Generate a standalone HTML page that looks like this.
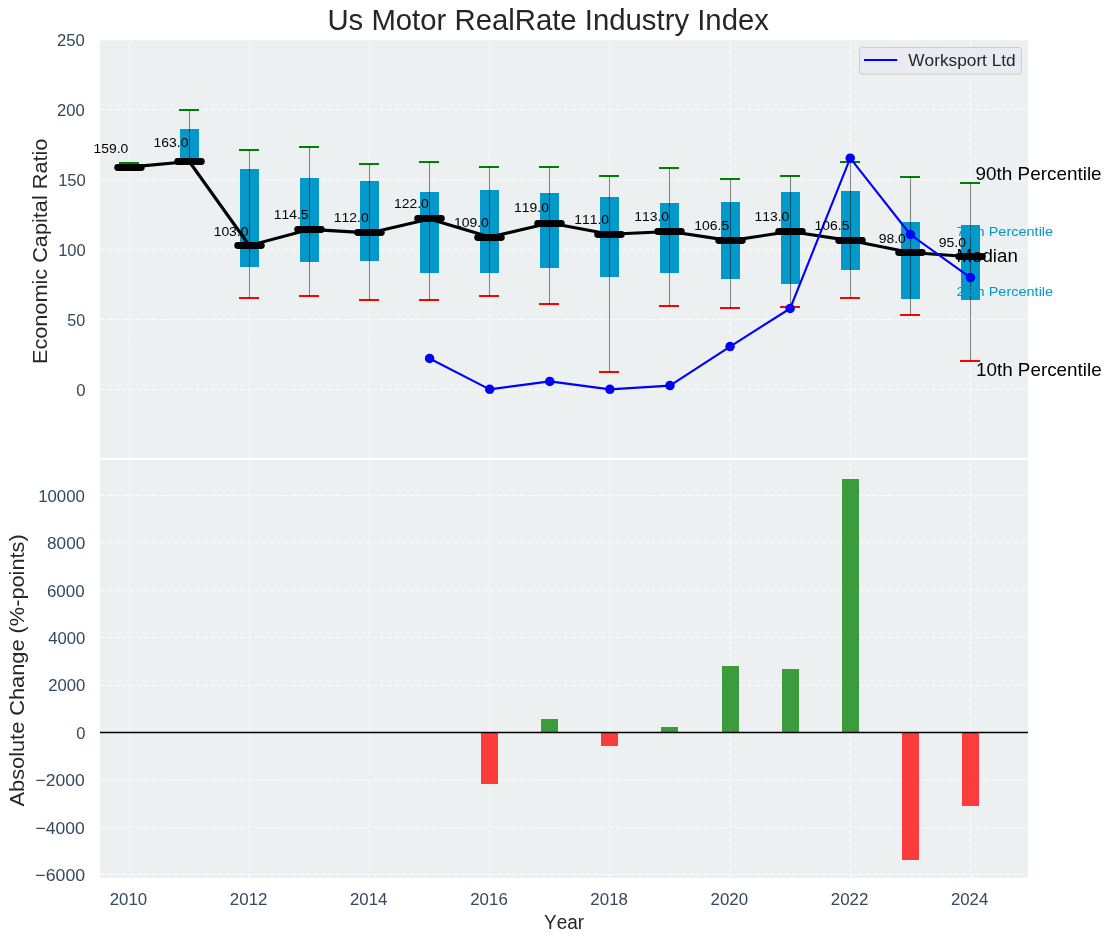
<!DOCTYPE html><html><head><meta charset="utf-8"><style>html,body{margin:0;padding:0;background:#fff;}svg{display:block;will-change:transform;}text{font-family:"Liberation Sans", sans-serif;font-kerning:none;}</style></head><body>
<svg width="1111" height="942" viewBox="0 0 1111 942">
<rect x="0" y="0" width="1111" height="942" fill="#ffffff"/>
<rect x="100.0" y="40.0" width="927.90" height="417.80" fill="#ecf0f1"/>
<rect x="100.0" y="460.0" width="927.90" height="417.80" fill="#ecf0f1"/>
<line x1="100.0" y1="389.50" x2="1027.90" y2="389.50" stroke="#ffffff" stroke-width="1" stroke-dasharray="5.139 2.222" stroke-opacity="0.8"/>
<line x1="100.0" y1="319.50" x2="1027.90" y2="319.50" stroke="#ffffff" stroke-width="1" stroke-dasharray="5.139 2.222" stroke-opacity="0.8"/>
<line x1="100.0" y1="249.50" x2="1027.90" y2="249.50" stroke="#ffffff" stroke-width="1" stroke-dasharray="5.139 2.222" stroke-opacity="0.8"/>
<line x1="100.0" y1="179.50" x2="1027.90" y2="179.50" stroke="#ffffff" stroke-width="1" stroke-dasharray="5.139 2.222" stroke-opacity="0.8"/>
<line x1="100.0" y1="109.50" x2="1027.90" y2="109.50" stroke="#ffffff" stroke-width="1" stroke-dasharray="5.139 2.222" stroke-opacity="0.8"/>
<line x1="100.0" y1="40.25" x2="1027.90" y2="40.25" stroke="#ffffff" stroke-width="0.5" stroke-dasharray="5.139 2.222" stroke-opacity="0.8"/>
<line x1="129.50" y1="457.80" x2="129.50" y2="40.00" stroke="#ffffff" stroke-width="1" stroke-dasharray="5.139 2.222" stroke-dashoffset="1.5" stroke-opacity="0.8"/>
<line x1="249.50" y1="457.80" x2="249.50" y2="40.00" stroke="#ffffff" stroke-width="1" stroke-dasharray="5.139 2.222" stroke-dashoffset="1.5" stroke-opacity="0.8"/>
<line x1="369.50" y1="457.80" x2="369.50" y2="40.00" stroke="#ffffff" stroke-width="1" stroke-dasharray="5.139 2.222" stroke-dashoffset="1.5" stroke-opacity="0.8"/>
<line x1="489.50" y1="457.80" x2="489.50" y2="40.00" stroke="#ffffff" stroke-width="1" stroke-dasharray="5.139 2.222" stroke-dashoffset="1.5" stroke-opacity="0.8"/>
<line x1="609.50" y1="457.80" x2="609.50" y2="40.00" stroke="#ffffff" stroke-width="1" stroke-dasharray="5.139 2.222" stroke-dashoffset="1.5" stroke-opacity="0.8"/>
<line x1="730.50" y1="457.80" x2="730.50" y2="40.00" stroke="#ffffff" stroke-width="1" stroke-dasharray="5.139 2.222" stroke-dashoffset="1.5" stroke-opacity="0.8"/>
<line x1="850.50" y1="457.80" x2="850.50" y2="40.00" stroke="#ffffff" stroke-width="1" stroke-dasharray="5.139 2.222" stroke-dashoffset="1.5" stroke-opacity="0.8"/>
<line x1="970.50" y1="457.80" x2="970.50" y2="40.00" stroke="#ffffff" stroke-width="1" stroke-dasharray="5.139 2.222" stroke-dashoffset="1.5" stroke-opacity="0.8"/>
<line x1="100.0" y1="874.50" x2="1027.90" y2="874.50" stroke="#ffffff" stroke-width="1" stroke-dasharray="5.139 2.222" stroke-opacity="0.8"/>
<line x1="100.0" y1="827.50" x2="1027.90" y2="827.50" stroke="#ffffff" stroke-width="1" stroke-dasharray="5.139 2.222" stroke-opacity="0.8"/>
<line x1="100.0" y1="780.50" x2="1027.90" y2="780.50" stroke="#ffffff" stroke-width="1" stroke-dasharray="5.139 2.222" stroke-opacity="0.8"/>
<line x1="100.0" y1="732.50" x2="1027.90" y2="732.50" stroke="#ffffff" stroke-width="1" stroke-dasharray="5.139 2.222" stroke-opacity="0.8"/>
<line x1="100.0" y1="685.50" x2="1027.90" y2="685.50" stroke="#ffffff" stroke-width="1" stroke-dasharray="5.139 2.222" stroke-opacity="0.8"/>
<line x1="100.0" y1="637.50" x2="1027.90" y2="637.50" stroke="#ffffff" stroke-width="1" stroke-dasharray="5.139 2.222" stroke-opacity="0.8"/>
<line x1="100.0" y1="590.50" x2="1027.90" y2="590.50" stroke="#ffffff" stroke-width="1" stroke-dasharray="5.139 2.222" stroke-opacity="0.8"/>
<line x1="100.0" y1="542.50" x2="1027.90" y2="542.50" stroke="#ffffff" stroke-width="1" stroke-dasharray="5.139 2.222" stroke-opacity="0.8"/>
<line x1="100.0" y1="495.50" x2="1027.90" y2="495.50" stroke="#ffffff" stroke-width="1" stroke-dasharray="5.139 2.222" stroke-opacity="0.8"/>
<line x1="129.50" y1="877.80" x2="129.50" y2="460.00" stroke="#ffffff" stroke-width="1" stroke-dasharray="5.139 2.222" stroke-dashoffset="1.5" stroke-opacity="0.8"/>
<line x1="249.50" y1="877.80" x2="249.50" y2="460.00" stroke="#ffffff" stroke-width="1" stroke-dasharray="5.139 2.222" stroke-dashoffset="1.5" stroke-opacity="0.8"/>
<line x1="369.50" y1="877.80" x2="369.50" y2="460.00" stroke="#ffffff" stroke-width="1" stroke-dasharray="5.139 2.222" stroke-dashoffset="1.5" stroke-opacity="0.8"/>
<line x1="489.50" y1="877.80" x2="489.50" y2="460.00" stroke="#ffffff" stroke-width="1" stroke-dasharray="5.139 2.222" stroke-dashoffset="1.5" stroke-opacity="0.8"/>
<line x1="609.50" y1="877.80" x2="609.50" y2="460.00" stroke="#ffffff" stroke-width="1" stroke-dasharray="5.139 2.222" stroke-dashoffset="1.5" stroke-opacity="0.8"/>
<line x1="730.50" y1="877.80" x2="730.50" y2="460.00" stroke="#ffffff" stroke-width="1" stroke-dasharray="5.139 2.222" stroke-dashoffset="1.5" stroke-opacity="0.8"/>
<line x1="850.50" y1="877.80" x2="850.50" y2="460.00" stroke="#ffffff" stroke-width="1" stroke-dasharray="5.139 2.222" stroke-dashoffset="1.5" stroke-opacity="0.8"/>
<line x1="970.50" y1="877.80" x2="970.50" y2="460.00" stroke="#ffffff" stroke-width="1" stroke-dasharray="5.139 2.222" stroke-dashoffset="1.5" stroke-opacity="0.8"/>
<rect x="180" y="129" width="19" height="32" fill="#0399cb"/>
<rect x="240" y="169" width="19" height="98" fill="#0399cb"/>
<rect x="300" y="178" width="19" height="84" fill="#0399cb"/>
<rect x="360" y="181" width="19" height="80" fill="#0399cb"/>
<rect x="420" y="192" width="19" height="81" fill="#0399cb"/>
<rect x="480" y="190" width="19" height="83" fill="#0399cb"/>
<rect x="540" y="193" width="19" height="75" fill="#0399cb"/>
<rect x="600" y="197" width="19" height="80" fill="#0399cb"/>
<rect x="660" y="203" width="19" height="70" fill="#0399cb"/>
<rect x="721" y="202" width="19" height="77" fill="#0399cb"/>
<rect x="781" y="192" width="19" height="92" fill="#0399cb"/>
<rect x="841" y="191" width="19" height="79" fill="#0399cb"/>
<rect x="901" y="222" width="19" height="77" fill="#0399cb"/>
<rect x="961" y="225" width="19" height="75" fill="#0399cb"/>
<line x1="119" y1="163" x2="139" y2="163" stroke="#008000" stroke-width="2"/>
<line x1="119" y1="169" x2="139" y2="169" stroke="#ff0000" stroke-width="2"/>
<line x1="129.50" y1="163.00" x2="129.50" y2="169.00" stroke="#000" stroke-opacity="0.45" stroke-width="1.1"/>
<line x1="179" y1="110" x2="199" y2="110" stroke="#008000" stroke-width="2"/>
<line x1="179" y1="161.5" x2="199" y2="161.5" stroke="#ff0000" stroke-width="2"/>
<line x1="189.50" y1="110.00" x2="189.50" y2="161.50" stroke="#000" stroke-opacity="0.45" stroke-width="1.1"/>
<line x1="239" y1="150" x2="259" y2="150" stroke="#008000" stroke-width="2"/>
<line x1="239" y1="298" x2="259" y2="298" stroke="#ff0000" stroke-width="2"/>
<line x1="249.50" y1="150.00" x2="249.50" y2="298.00" stroke="#000" stroke-opacity="0.45" stroke-width="1.1"/>
<line x1="299" y1="147" x2="319" y2="147" stroke="#008000" stroke-width="2"/>
<line x1="299" y1="296" x2="319" y2="296" stroke="#ff0000" stroke-width="2"/>
<line x1="309.50" y1="147.00" x2="309.50" y2="296.00" stroke="#000" stroke-opacity="0.45" stroke-width="1.1"/>
<line x1="359" y1="164" x2="379" y2="164" stroke="#008000" stroke-width="2"/>
<line x1="359" y1="300" x2="379" y2="300" stroke="#ff0000" stroke-width="2"/>
<line x1="369.50" y1="164.00" x2="369.50" y2="300.00" stroke="#000" stroke-opacity="0.45" stroke-width="1.1"/>
<line x1="419" y1="162" x2="439" y2="162" stroke="#008000" stroke-width="2"/>
<line x1="419" y1="300" x2="439" y2="300" stroke="#ff0000" stroke-width="2"/>
<line x1="429.50" y1="162.00" x2="429.50" y2="300.00" stroke="#000" stroke-opacity="0.45" stroke-width="1.1"/>
<line x1="479" y1="167" x2="499" y2="167" stroke="#008000" stroke-width="2"/>
<line x1="479" y1="296" x2="499" y2="296" stroke="#ff0000" stroke-width="2"/>
<line x1="489.50" y1="167.00" x2="489.50" y2="296.00" stroke="#000" stroke-opacity="0.45" stroke-width="1.1"/>
<line x1="539" y1="167" x2="559" y2="167" stroke="#008000" stroke-width="2"/>
<line x1="539" y1="304" x2="559" y2="304" stroke="#ff0000" stroke-width="2"/>
<line x1="549.50" y1="167.00" x2="549.50" y2="304.00" stroke="#000" stroke-opacity="0.45" stroke-width="1.1"/>
<line x1="599" y1="176" x2="619" y2="176" stroke="#008000" stroke-width="2"/>
<line x1="599" y1="372" x2="619" y2="372" stroke="#ff0000" stroke-width="2"/>
<line x1="609.50" y1="176.00" x2="609.50" y2="372.00" stroke="#000" stroke-opacity="0.45" stroke-width="1.1"/>
<line x1="659" y1="168" x2="679" y2="168" stroke="#008000" stroke-width="2"/>
<line x1="659" y1="306" x2="679" y2="306" stroke="#ff0000" stroke-width="2"/>
<line x1="669.50" y1="168.00" x2="669.50" y2="306.00" stroke="#000" stroke-opacity="0.45" stroke-width="1.1"/>
<line x1="720" y1="179" x2="740" y2="179" stroke="#008000" stroke-width="2"/>
<line x1="720" y1="308" x2="740" y2="308" stroke="#ff0000" stroke-width="2"/>
<line x1="730.50" y1="179.00" x2="730.50" y2="308.00" stroke="#000" stroke-opacity="0.45" stroke-width="1.1"/>
<line x1="780" y1="176" x2="800" y2="176" stroke="#008000" stroke-width="2"/>
<line x1="780" y1="307" x2="800" y2="307" stroke="#ff0000" stroke-width="2"/>
<line x1="790.50" y1="176.00" x2="790.50" y2="307.00" stroke="#000" stroke-opacity="0.45" stroke-width="1.1"/>
<line x1="840" y1="162" x2="860" y2="162" stroke="#008000" stroke-width="2"/>
<line x1="840" y1="298" x2="860" y2="298" stroke="#ff0000" stroke-width="2"/>
<line x1="850.50" y1="162.00" x2="850.50" y2="298.00" stroke="#000" stroke-opacity="0.45" stroke-width="1.1"/>
<line x1="900" y1="177" x2="920" y2="177" stroke="#008000" stroke-width="2"/>
<line x1="900" y1="315" x2="920" y2="315" stroke="#ff0000" stroke-width="2"/>
<line x1="910.50" y1="177.00" x2="910.50" y2="315.00" stroke="#000" stroke-opacity="0.45" stroke-width="1.1"/>
<line x1="960" y1="183" x2="980" y2="183" stroke="#008000" stroke-width="2"/>
<line x1="960" y1="361" x2="980" y2="361" stroke="#ff0000" stroke-width="2"/>
<line x1="970.50" y1="183.00" x2="970.50" y2="361.00" stroke="#000" stroke-opacity="0.45" stroke-width="1.1"/>
<polyline points="129.15,167.10 189.24,161.50 249.33,245.50 309.42,229.40 369.51,232.90 429.60,218.90 489.69,237.10 549.78,223.10 609.87,234.30 669.96,231.50 730.05,240.60 790.14,231.50 850.23,240.60 910.32,252.50 970.41,256.70" fill="none" stroke="#000" stroke-width="3.1" stroke-linejoin="round"/>
<line x1="117.70" y1="167.50" x2="141.30" y2="167.50" stroke="#000" stroke-width="6.9" stroke-linecap="round"/>
<line x1="177.70" y1="161.50" x2="201.30" y2="161.50" stroke="#000" stroke-width="6.9" stroke-linecap="round"/>
<line x1="237.70" y1="245.50" x2="261.30" y2="245.50" stroke="#000" stroke-width="6.9" stroke-linecap="round"/>
<line x1="297.70" y1="229.50" x2="321.30" y2="229.50" stroke="#000" stroke-width="6.9" stroke-linecap="round"/>
<line x1="357.70" y1="232.50" x2="381.30" y2="232.50" stroke="#000" stroke-width="6.9" stroke-linecap="round"/>
<line x1="417.70" y1="218.50" x2="441.30" y2="218.50" stroke="#000" stroke-width="6.9" stroke-linecap="round"/>
<line x1="477.70" y1="237.50" x2="501.30" y2="237.50" stroke="#000" stroke-width="6.9" stroke-linecap="round"/>
<line x1="537.70" y1="223.50" x2="561.30" y2="223.50" stroke="#000" stroke-width="6.9" stroke-linecap="round"/>
<line x1="597.70" y1="234.50" x2="621.30" y2="234.50" stroke="#000" stroke-width="6.9" stroke-linecap="round"/>
<line x1="657.70" y1="231.50" x2="681.30" y2="231.50" stroke="#000" stroke-width="6.9" stroke-linecap="round"/>
<line x1="718.70" y1="240.50" x2="742.30" y2="240.50" stroke="#000" stroke-width="6.9" stroke-linecap="round"/>
<line x1="778.70" y1="231.50" x2="802.30" y2="231.50" stroke="#000" stroke-width="6.9" stroke-linecap="round"/>
<line x1="838.70" y1="240.50" x2="862.30" y2="240.50" stroke="#000" stroke-width="6.9" stroke-linecap="round"/>
<line x1="898.70" y1="252.50" x2="922.30" y2="252.50" stroke="#000" stroke-width="6.9" stroke-linecap="round"/>
<line x1="958.70" y1="256.50" x2="982.30" y2="256.50" stroke="#000" stroke-width="6.9" stroke-linecap="round"/>
<polyline points="429.60,358.45 489.69,389.35 549.78,381.40 609.87,389.35 669.96,385.60 730.05,346.60 790.14,308.50 850.23,158.20 910.32,234.50 970.41,277.60" fill="none" stroke="#0000ff" stroke-width="2.1" stroke-linejoin="round"/>
<circle cx="429.60" cy="358.45" r="4.75" fill="#0000ff"/>
<circle cx="489.69" cy="389.35" r="4.75" fill="#0000ff"/>
<circle cx="549.78" cy="381.40" r="4.75" fill="#0000ff"/>
<circle cx="609.87" cy="389.35" r="4.75" fill="#0000ff"/>
<circle cx="669.96" cy="385.60" r="4.75" fill="#0000ff"/>
<circle cx="730.05" cy="346.60" r="4.75" fill="#0000ff"/>
<circle cx="790.14" cy="308.50" r="4.75" fill="#0000ff"/>
<circle cx="850.23" cy="158.20" r="4.75" fill="#0000ff"/>
<circle cx="910.32" cy="234.50" r="4.75" fill="#0000ff"/>
<circle cx="970.41" cy="277.60" r="4.75" fill="#0000ff"/>
<text x="93.49" y="153.00" font-size="12.90" fill="#000000" textLength="34.80" lengthAdjust="spacingAndGlyphs">159.0</text>
<text x="153.58" y="147.00" font-size="12.90" fill="#000000" textLength="34.80" lengthAdjust="spacingAndGlyphs">163.0</text>
<text x="213.67" y="236.00" font-size="12.90" fill="#000000" textLength="34.80" lengthAdjust="spacingAndGlyphs">103.0</text>
<text x="273.76" y="219.00" font-size="12.90" fill="#000000" textLength="34.85" lengthAdjust="spacingAndGlyphs">114.5</text>
<text x="333.85" y="222.00" font-size="12.90" fill="#000000" textLength="34.80" lengthAdjust="spacingAndGlyphs">112.0</text>
<text x="393.94" y="208.00" font-size="12.90" fill="#000000" textLength="34.80" lengthAdjust="spacingAndGlyphs">122.0</text>
<text x="454.03" y="227.00" font-size="12.90" fill="#000000" textLength="34.80" lengthAdjust="spacingAndGlyphs">109.0</text>
<text x="514.12" y="212.00" font-size="12.90" fill="#000000" textLength="34.80" lengthAdjust="spacingAndGlyphs">119.0</text>
<text x="574.21" y="224.00" font-size="12.90" fill="#000000" textLength="34.80" lengthAdjust="spacingAndGlyphs">111.0</text>
<text x="634.30" y="221.00" font-size="12.90" fill="#000000" textLength="34.80" lengthAdjust="spacingAndGlyphs">113.0</text>
<text x="694.39" y="230.00" font-size="12.90" fill="#000000" textLength="34.85" lengthAdjust="spacingAndGlyphs">106.5</text>
<text x="754.48" y="221.00" font-size="12.90" fill="#000000" textLength="34.80" lengthAdjust="spacingAndGlyphs">113.0</text>
<text x="814.57" y="230.00" font-size="12.90" fill="#000000" textLength="34.85" lengthAdjust="spacingAndGlyphs">106.5</text>
<text x="878.66" y="243.00" font-size="12.90" fill="#000000" textLength="27.20" lengthAdjust="spacingAndGlyphs">98.0</text>
<text x="938.75" y="247.00" font-size="12.90" fill="#000000" textLength="27.20" lengthAdjust="spacingAndGlyphs">95.0</text>
<text x="975.61" y="180.00" font-size="18.60" fill="#000000" textLength="126.02" lengthAdjust="spacingAndGlyphs">90th Percentile</text>
<text x="975.97" y="376.00" font-size="18.60" fill="#000000" textLength="125.67" lengthAdjust="spacingAndGlyphs">10th Percentile</text>
<text x="956.47" y="262.30" font-size="18.60" fill="#000000" textLength="61.35" lengthAdjust="spacingAndGlyphs">Median</text>
<text x="956.46" y="236.10" font-size="13.00" fill="#0399cb" textLength="96.69" lengthAdjust="spacingAndGlyphs">75th Percentile</text>
<text x="956.47" y="296.00" font-size="13.00" fill="#0399cb" textLength="96.67" lengthAdjust="spacingAndGlyphs">25th Percentile</text>
<rect x="859.5" y="47.5" width="162" height="26.7" rx="2.8" ry="2.8" fill="#eaeaf2" fill-opacity="0.8" stroke="#cccccc" stroke-width="1"/>
<line x1="864" y1="60" x2="897.2" y2="60" stroke="#0000ff" stroke-width="2.1"/>
<text x="908.32" y="66.00" font-size="16.90" fill="#262626" textLength="107.39" lengthAdjust="spacingAndGlyphs">Worksport Ltd</text>
<rect x="481" y="733" width="17" height="51" fill="#ff0000" fill-opacity="0.75"/>
<rect x="541" y="719" width="17" height="14" fill="#008000" fill-opacity="0.75"/>
<rect x="601" y="733" width="17" height="13" fill="#ff0000" fill-opacity="0.75"/>
<rect x="661" y="727" width="17" height="6" fill="#008000" fill-opacity="0.75"/>
<rect x="722" y="666" width="17" height="67" fill="#008000" fill-opacity="0.75"/>
<rect x="782" y="669" width="17" height="64" fill="#008000" fill-opacity="0.75"/>
<rect x="842" y="479" width="17" height="254" fill="#008000" fill-opacity="0.75"/>
<rect x="902" y="733" width="17" height="127" fill="#ff0000" fill-opacity="0.75"/>
<rect x="962" y="733" width="17" height="73" fill="#ff0000" fill-opacity="0.75"/>
<line x1="100.0" y1="732.5" x2="1027.90" y2="732.5" stroke="#000" stroke-width="1.4"/>
<text x="57.06" y="46.00" font-size="16.90" fill="#34495e" textLength="27.79" lengthAdjust="spacingAndGlyphs">250</text>
<text x="56.96" y="116.00" font-size="16.90" fill="#34495e" textLength="27.79" lengthAdjust="spacingAndGlyphs">200</text>
<text x="58.13" y="186.00" font-size="16.90" fill="#34495e" textLength="27.71" lengthAdjust="spacingAndGlyphs">150</text>
<text x="58.14" y="256.00" font-size="16.90" fill="#34495e" textLength="27.61" lengthAdjust="spacingAndGlyphs">100</text>
<text x="67.26" y="326.00" font-size="16.90" fill="#34495e" textLength="17.87" lengthAdjust="spacingAndGlyphs">50</text>
<text x="76.35" y="396.00" font-size="16.90" fill="#34495e" textLength="9.31" lengthAdjust="spacingAndGlyphs">0</text>
<text x="38.18" y="502.00" font-size="16.90" fill="#34495e" textLength="46.74" lengthAdjust="spacingAndGlyphs">10000</text>
<text x="47.05" y="549.00" font-size="16.90" fill="#34495e" textLength="38.22" lengthAdjust="spacingAndGlyphs">8000</text>
<text x="46.94" y="597.00" font-size="16.90" fill="#34495e" textLength="37.62" lengthAdjust="spacingAndGlyphs">6000</text>
<text x="48.22" y="644.00" font-size="16.90" fill="#34495e" textLength="37.03" lengthAdjust="spacingAndGlyphs">4000</text>
<text x="48.16" y="691.00" font-size="16.90" fill="#34495e" textLength="37.09" lengthAdjust="spacingAndGlyphs">2000</text>
<text x="76.25" y="739.00" font-size="16.90" fill="#34495e" textLength="9.19" lengthAdjust="spacingAndGlyphs">0</text>
<text x="35.54" y="786.00" font-size="16.90" fill="#34495e" textLength="49.25" lengthAdjust="spacingAndGlyphs">−2000</text>
<text x="35.54" y="834.00" font-size="16.90" fill="#34495e" textLength="49.25" lengthAdjust="spacingAndGlyphs">−4000</text>
<text x="35.32" y="881.00" font-size="16.90" fill="#34495e" textLength="49.87" lengthAdjust="spacingAndGlyphs">−6000</text>
<text x="109.65" y="905.00" font-size="16.90" fill="#34495e" textLength="37.51" lengthAdjust="spacingAndGlyphs">2010</text>
<text x="229.83" y="905.00" font-size="16.90" fill="#34495e" textLength="37.70" lengthAdjust="spacingAndGlyphs">2012</text>
<text x="350.02" y="905.00" font-size="16.90" fill="#34495e" textLength="37.34" lengthAdjust="spacingAndGlyphs">2014</text>
<text x="470.19" y="905.00" font-size="16.90" fill="#34495e" textLength="37.59" lengthAdjust="spacingAndGlyphs">2016</text>
<text x="590.37" y="905.00" font-size="16.90" fill="#34495e" textLength="37.58" lengthAdjust="spacingAndGlyphs">2018</text>
<text x="710.55" y="905.00" font-size="16.90" fill="#34495e" textLength="37.51" lengthAdjust="spacingAndGlyphs">2020</text>
<text x="830.73" y="905.00" font-size="16.90" fill="#34495e" textLength="37.70" lengthAdjust="spacingAndGlyphs">2022</text>
<text x="950.92" y="905.00" font-size="16.90" fill="#34495e" textLength="37.34" lengthAdjust="spacingAndGlyphs">2024</text>
<text x="327.44" y="30.00" font-size="28.60" fill="#262626" textLength="441.48" lengthAdjust="spacingAndGlyphs">Us Motor RealRate Industry Index</text>
<text x="544.08" y="928.90" font-size="19.30" fill="#262626" textLength="40.03" lengthAdjust="spacingAndGlyphs">Year</text>
<text transform="translate(47.10,364.08) rotate(-90)" x="0" y="0" font-size="20.20" fill="#262626" textLength="225.49" lengthAdjust="spacingAndGlyphs">Economic Capital Ratio</text>
<text transform="translate(23.90,806.44) rotate(-90)" x="0" y="0" font-size="20.60" fill="#262626" textLength="272.19" lengthAdjust="spacingAndGlyphs">Absolute Change (%-points)</text>
</svg></body></html>
